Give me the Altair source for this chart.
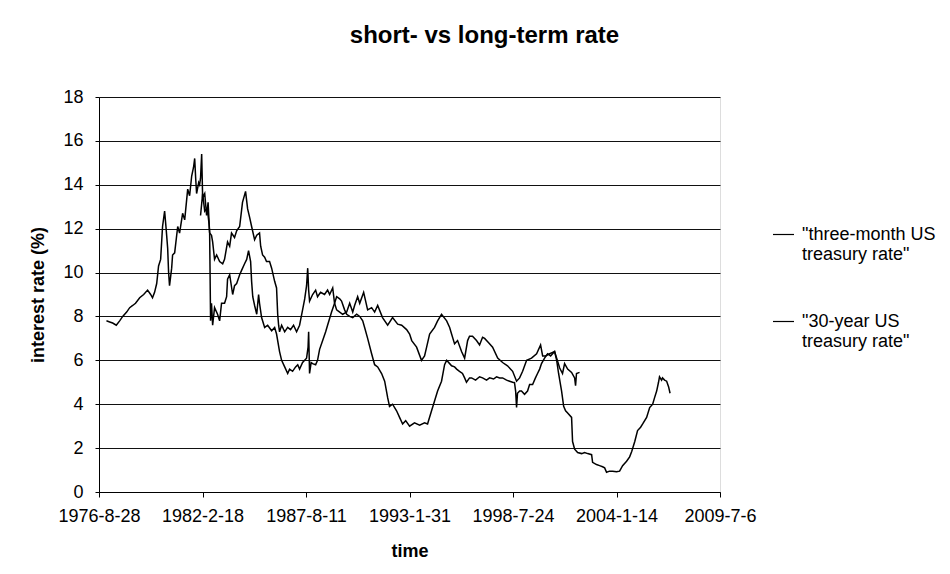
import altair as alt
import pandas as pd

SHORT = '"three-month US treasury rate"'
LONG = '"30-year US treasury rate"'

# 30-year US treasury rate (decimal year, percent)
long_years = [1977.05, 1977.22, 1977.38, 1977.57, 1977.75, 1977.91, 1978.12, 1978.28, 1978.44, 1978.59,
              1978.81, 1979.02, 1979.23, 1979.39, 1979.49, 1979.60, 1979.71, 1979.81, 1979.92, 1980.02,
              1980.13, 1980.21, 1980.29, 1980.34, 1980.39, 1980.50, 1980.55, 1980.66, 1980.82, 1980.92,
              1981.08, 1981.19, 1981.35, 1981.45, 1981.56, 1981.66, 1981.72, 1981.77, 1981.82, 1981.93,
              1981.98, 1982.03, 1982.09, 1982.14, 1982.25, 1982.35, 1982.43, 1982.51, 1982.61, 1982.67,
              1982.77, 1982.88, 1983.04, 1983.20, 1983.30, 1983.46, 1983.57, 1983.67, 1983.83, 1983.94,
              1984.10, 1984.25, 1984.41, 1984.52, 1984.63, 1984.73, 1984.89, 1985.00, 1985.15, 1985.21,
              1985.31, 1985.42, 1985.52, 1985.68, 1985.79, 1985.95, 1986.05, 1986.11, 1986.16, 1986.21,
              1986.32, 1986.48, 1986.64, 1986.79, 1986.95, 1987.11, 1987.27, 1987.43, 1987.54, 1987.64,
              1987.70, 1987.75, 1987.80, 1987.96, 1988.12, 1988.22, 1988.38, 1988.59, 1988.75, 1988.86,
              1989.02, 1989.12, 1989.23, 1989.39, 1989.55, 1989.76, 1989.92, 1990.08, 1990.18, 1990.34,
              1990.45, 1990.66, 1990.87, 1991.08, 1991.24, 1991.40, 1991.66, 1991.93, 1992.19, 1992.46,
              1992.67, 1992.93, 1993.09, 1993.20, 1993.46, 1993.72, 1993.88, 1993.99, 1994.15, 1994.41,
              1994.57, 1994.78, 1995.05, 1995.21, 1995.31, 1995.47, 1995.63, 1995.84, 1996.00, 1996.16,
              1996.26, 1996.42, 1996.63, 1996.79, 1996.95, 1997.06, 1997.27, 1997.48, 1997.75, 1998.01,
              1998.27, 1998.54, 1998.75, 1998.91, 1999.07, 1999.28, 1999.54, 1999.81, 2000.02, 2000.13,
              2000.28, 2000.50, 2000.76, 2000.87, 2001.03, 2001.18, 2001.29, 2001.45, 2001.66, 2001.82,
              2001.87, 2001.92, 2002.08]
long_rates = [7.8, 7.75, 7.7, 7.6, 7.8, 8.0, 8.2, 8.4, 8.5, 8.6,
              8.85, 9.0, 9.2, 9.0, 8.85, 9.1, 9.5, 10.3, 10.6, 12.1,
              12.8, 12.0, 11.1, 10.0, 9.4, 10.2, 10.8, 10.9, 12.1, 11.8,
              12.7, 12.4, 13.8, 13.5, 14.4, 14.8, 15.2, 14.3, 13.6, 14.1,
              14.0, 14.3, 15.4, 13.4, 13.6, 12.6, 13.2, 11.8, 11.7, 11.4,
              10.6, 10.8, 10.5, 10.4, 10.6, 11.4, 11.2, 11.8, 11.6, 11.9,
              12.1, 13.2, 13.7, 12.9, 12.5, 12.1, 11.5, 11.7, 11.8, 11.2,
              10.8, 10.7, 10.5, 10.5, 10.2, 9.6, 9.3, 8.1, 7.6, 7.3,
              7.6, 7.3, 7.5, 7.4, 7.6, 7.3, 7.6, 8.3, 8.8, 9.4,
              10.2, 9.2, 8.7, 9.0, 9.2, 8.9, 9.1, 9.0, 9.2, 9.0,
              9.3, 8.6, 8.3, 8.2, 8.1, 8.2, 8.6, 8.2, 8.5, 8.9,
              8.6, 9.1, 8.3, 8.4, 8.2, 8.5, 7.95, 7.6, 7.95, 7.65,
              7.6, 7.4, 7.2, 6.9, 6.6, 6.0, 6.2, 6.6, 7.2, 7.5,
              7.8, 8.1, 7.8, 7.5, 7.2, 6.75, 6.9, 6.4, 6.1, 6.9,
              7.1, 7.1, 6.9, 6.7, 7.05, 7.0, 6.8, 6.6, 6.1, 5.9,
              5.75, 5.5, 5.05, 5.2, 5.5, 6.0, 6.1, 6.3, 6.7, 6.2,
              6.2, 6.3, 6.4, 6.1, 5.65, 5.4, 5.85, 5.6, 5.45, 5.2,
              4.85, 5.4, 5.45]

# three-month US treasury rate (decimal year, percent)
short_years = [1982.03, 1982.14, 1982.25, 1982.35, 1982.43, 1982.48, 1982.51, 1982.56, 1982.61, 1982.67,
               1982.77, 1982.93, 1983.04, 1983.14, 1983.30, 1983.41, 1983.46, 1983.57, 1983.73, 1983.83,
               1983.94, 1984.10, 1984.20, 1984.36, 1984.47, 1984.57, 1984.68, 1984.73, 1984.79, 1984.89,
               1985.00, 1985.10, 1985.15, 1985.26, 1985.42, 1985.58, 1985.79, 1985.95, 1986.05, 1986.21,
               1986.32, 1986.48, 1986.64, 1986.74, 1986.90, 1987.06, 1987.17, 1987.27, 1987.43, 1987.64,
               1987.72, 1987.75, 1987.80, 1987.88, 1987.96, 1988.12, 1988.22, 1988.33, 1988.49, 1988.65,
               1988.75, 1988.96, 1989.12, 1989.23, 1989.39, 1989.49, 1989.65, 1989.76, 1989.92, 1990.08,
               1990.29, 1990.45, 1990.61, 1990.71, 1990.87, 1991.08, 1991.24, 1991.40, 1991.61, 1991.77,
               1991.93, 1992.03, 1992.19, 1992.40, 1992.56, 1992.72, 1992.88, 1993.09, 1993.35, 1993.62,
               1993.88, 1994.04, 1994.25, 1994.41, 1994.57, 1994.78, 1994.94, 1995.05, 1995.21, 1995.31,
               1995.47, 1995.58, 1995.73, 1995.89, 1996.00, 1996.10, 1996.26, 1996.37, 1996.58, 1996.79,
               1996.95, 1997.16, 1997.32, 1997.53, 1997.69, 1997.85, 1998.01, 1998.22, 1998.38, 1998.54,
               1998.64, 1998.70, 1998.75, 1998.80, 1998.91, 1999.01, 1999.17, 1999.33, 1999.44, 1999.60,
               1999.75, 1999.86, 1999.97, 2000.07, 2000.23, 2000.39, 2000.55, 2000.76, 2000.87, 2000.97,
               2001.13, 2001.24, 2001.34, 2001.45, 2001.66, 2001.71, 2001.82, 2001.98, 2002.19, 2002.35,
               2002.51, 2002.72, 2002.77, 2002.98, 2003.14, 2003.30, 2003.41, 2003.51, 2003.67, 2003.83,
               2004.04, 2004.20, 2004.36, 2004.57, 2004.73, 2004.84, 2005.00, 2005.15, 2005.31, 2005.42,
               2005.63, 2005.79, 2005.95, 2006.05, 2006.16, 2006.26, 2006.31, 2006.42, 2006.47, 2006.58,
               2006.69, 2006.79, 2006.87]
short_rates = [12.6, 13.6, 12.8, 12.9, 12.6, 12.2, 11.8, 7.8, 8.6, 7.6,
               8.4, 8.1, 7.8, 8.6, 8.6, 8.9, 9.7, 9.9, 9.0, 9.4,
               9.5, 9.9, 10.1, 10.4, 10.6, 11.0, 10.5, 9.6, 8.9, 8.5,
               8.1, 9.0, 8.6, 7.95, 7.5, 7.6, 7.35, 7.5, 7.2, 6.4,
               6.0, 5.7, 5.4, 5.6, 5.5, 5.7, 5.8, 5.6, 5.9, 6.1,
               6.6, 7.3, 5.4, 5.9, 5.85, 5.8, 6.0, 6.5, 6.9, 7.3,
               7.6, 8.2, 8.6, 8.9, 8.8, 8.7, 8.3, 8.1, 8.0, 7.95,
               8.1, 8.0, 7.8, 7.5, 7.0, 6.3, 5.8, 5.7, 5.4, 5.05,
               4.3, 3.9, 4.0, 3.7, 3.4, 3.1, 3.25, 3.0, 3.15, 3.05,
               3.15, 3.1, 3.7, 4.15, 4.6, 5.05, 5.8, 6.0, 5.85, 5.75,
               5.7, 5.6, 5.5, 5.4, 5.2, 5.0, 5.2, 5.2, 5.1, 5.25,
               5.2, 5.1, 5.2, 5.15, 5.25, 5.2, 5.2, 5.1, 5.05, 5.0,
               4.98, 4.6, 3.85, 4.5, 4.6, 4.6, 4.45, 4.6, 4.9, 4.9,
               5.2, 5.4, 5.6, 5.85, 6.1, 6.3, 6.2, 6.4, 6.0, 5.4,
               4.6, 3.9, 3.7, 3.6, 3.4, 2.3, 1.95, 1.8, 1.75, 1.8,
               1.75, 1.7, 1.35, 1.25, 1.2, 1.15, 1.1, 0.9, 0.95, 0.95,
               0.92, 0.95, 1.2, 1.4, 1.6, 1.85, 2.3, 2.8, 2.95, 3.1,
               3.4, 3.85, 4.0, 4.3, 4.6, 5.0, 5.25, 5.1, 5.2, 5.1,
               5.05, 4.8, 4.5]

tick_dates = ["1976-08-28", "1982-02-18", "1987-08-11", "1993-01-31",
              "1998-07-24", "2004-01-14", "2009-07-06"]
y_ticks = [0, 2, 4, 6, 8, 10, 12, 14, 16, 18]


def to_iso(y):
    yr = int(y)
    start = pd.Timestamp(year=yr, month=1, day=1)
    end = pd.Timestamp(year=yr + 1, month=1, day=1)
    return (start + (end - start) * (y - yr)).strftime("%Y-%m-%d")


def ms(s):
    return int(pd.Timestamp(s).value // 10**6)


df = pd.concat([
    pd.DataFrame({"date": [to_iso(y) for y in short_years], "rate": short_rates, "series": SHORT}),
    pd.DataFrame({"date": [to_iso(y) for y in long_years], "rate": long_rates, "series": LONG}),
], ignore_index=True)

FONT = "Liberation Sans"
LEG_EXPR = ("indexof(datum.label, 'three') >= 0 ? ['\"three-month US', 'treasury rate\"']"
            " : ['\"30-year US', 'treasury rate\"']")

chart = alt.Chart(df).mark_line(strokeWidth=1.5).encode(
    x=alt.X(
        "date:T",
        scale=alt.Scale(type="utc", domain=[ms(tick_dates[0]), ms(tick_dates[-1])], nice=False),
        axis=alt.Axis(
            values=[ms(t) for t in tick_dates],
            labelExpr="utcFormat(datum.value, '%Y-%-m-%-d')",
            labelFlush=False, labelOverlap=False,
            labelFont=FONT, labelFontSize=18, labelColor="black", labelPadding=10,
            tickSize=5, tickColor="black", domainColor="black", grid=False,
            title="time", titleFont=FONT, titleFontSize=18, titleFontWeight="bold",
            titleColor="black", titleY=59, titleBaseline="middle",
        ),
    ),
    y=alt.Y(
        "rate:Q",
        scale=alt.Scale(domain=[0, 18], nice=False),
        axis=alt.Axis(
            values=y_ticks,
            labelFont=FONT, labelFontSize=18, labelColor="black", labelPadding=12,
            tickSize=4, tickColor="black", domainColor="black",
            grid=True, gridColor="#111111", gridWidth=1,
            title="interest rate (%)", titleFont=FONT, titleFontSize=18, titleFontWeight="bold",
            titleColor="black", titleX=-61, titleY=197.5, titleAlign="center", titleBaseline="middle",
        ),
    ),
    color=alt.Color(
        "series:N",
        title=None,
        scale=alt.Scale(domain=[SHORT, LONG], range=["black", "black"]),
        legend=alt.Legend(
            orient="none", legendX=673, legendY=126, padding=0,
            symbolType="stroke", symbolSize=441, symbolStrokeWidth=1.2,
            labelFont=FONT, labelFontSize=18, labelColor="black", labelLimit=300,
            labelOffset=7, labelBaseline="middle", rowPadding=46,
            labelExpr=LEG_EXPR,
        ),
    ),
).properties(
    width=621,
    height=395,
    title=alt.TitleParams(
        text="short- vs long-term rate", font=FONT, fontSize=24, fontWeight="bold",
        color="black", anchor="middle", frame="group", dx=75, offset=40,
    ),
    autosize=alt.AutoSizeParams(type="none"),
    padding={"left": 91, "top": 89, "right": 222, "bottom": 80},
).configure_view(stroke="transparent").configure(background="white")

chart.save("out.html", embed_options={"renderer": "svg", "actions": False})
